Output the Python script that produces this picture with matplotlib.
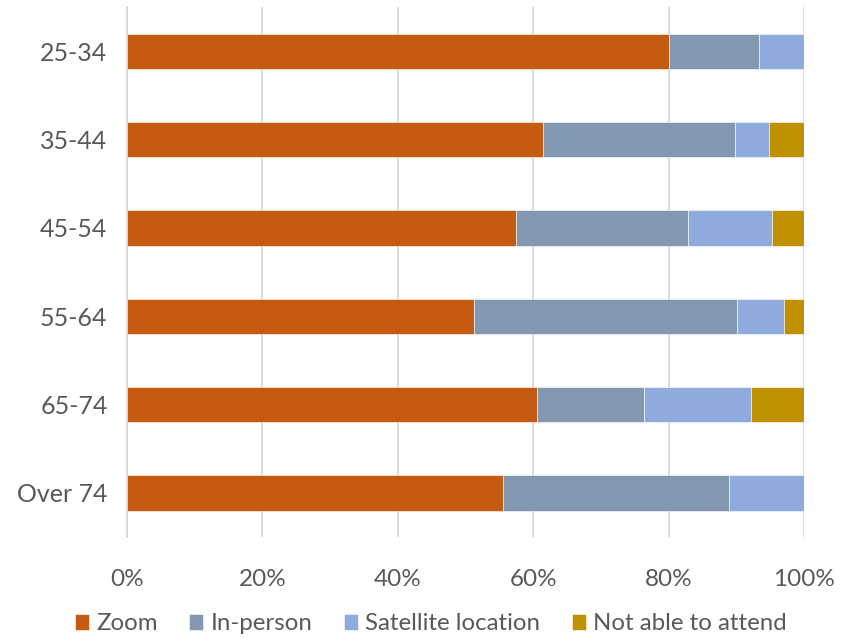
import matplotlib
matplotlib.use("Agg")
import matplotlib.pyplot as plt
import numpy as np

categories = ["25-34", "35-44", "45-54", "55-64", "65-74", "Over 74"]
series_names = ["Zoom", "In-person", "Satellite location", "Not able to attend"]
zoom = [80.0, 61.5, 57.4, 51.2, 60.5, 55.6]
in_person = [13.4, 28.3, 25.5, 38.9, 15.9, 33.3]
satellite = [6.6, 5.1, 12.3, 6.9, 15.7, 11.1]
not_able = [0.0, 5.1, 4.8, 3.0, 7.9, 0.0]
colors = ["#C55A11", "#8497B0", "#8FAADC", "#BF9000"]
xticks = [0, 20, 40, 60, 80, 100]

plt.rcParams["font.family"] = ["Lato", "DejaVu Sans"]

fig = plt.figure(figsize=(8.53, 6.38), dpi=100)
ax = fig.add_axes([127 / 853, 1 - 537 / 638, 677 / 853, 530 / 638])

y = np.arange(len(categories))
left = np.zeros(len(categories))
for name, vals, c in zip(series_names, [zoom, in_person, satellite, not_able], colors):
    vals = np.array(vals)
    ax.barh(y, vals, left=left, height=0.4, color=c, label=name,
            edgecolor="white", linewidth=0.4, zorder=3)
    left += vals

ax.set_ylim(len(categories) - 0.5, -0.5)
ax.set_xlim(0, 100)
ax.set_yticks(y)
ax.set_yticklabels(categories)
ax.set_xticks(xticks)
ax.set_xticklabels([f"{t}%" for t in xticks])
ax.tick_params(axis="both", length=0, colors="#595959")
ax.tick_params(axis="x", pad=23, labelsize=17.5)
ax.tick_params(axis="y", pad=14, labelsize=18)
ax.grid(axis="x", color="#D9D9D9", linewidth=1.3, zorder=0)
for s in ["top", "right", "bottom"]:
    ax.spines[s].set_visible(False)
ax.spines["left"].set_color("#D9D9D9")
ax.spines["left"].set_linewidth(1.3)

fig.legend(loc="center", bbox_to_anchor=(0.505, 1 - 624 / 638), ncol=4, frameon=False,
           fontsize=17.3, labelcolor="#595959", handlelength=0.6, handleheight=0.6,
           handletextpad=0.3, columnspacing=1.3)

fig.savefig("out.png", dpi=100)
